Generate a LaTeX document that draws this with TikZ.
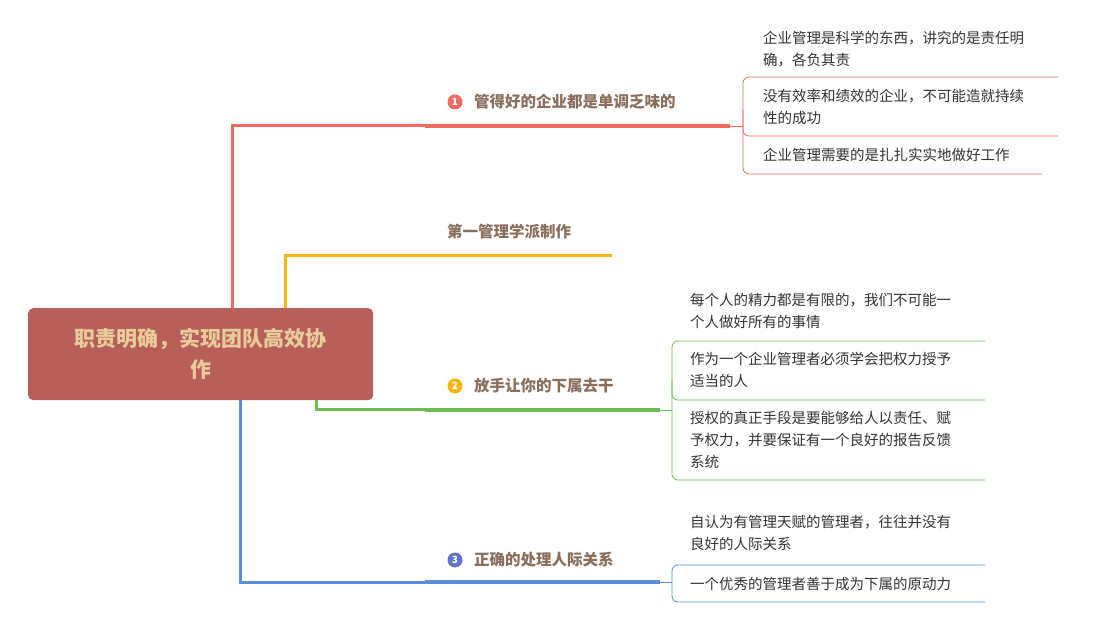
\documentclass[tikz,border=0pt]{standalone}
\usepackage{fontspec}
\setmainfont{Noto Sans CJK SC}
\begin{document}
\begin{tikzpicture}[x=1pt,y=-1pt,
  lbl/.style={anchor=west,font=\fontsize{15.5}{18}\selectfont\bfseries,text=lblc,inner sep=0},
  leaf/.style={anchor=north west,font=\fontsize{14.5}{22}\selectfont,text=leafc,inner sep=0,align=left},
  num/.style={circle,fill=#1,text=white,inner sep=0,minimum size=15pt,font=\fontsize{10}{10}\selectfont\bfseries}]
\definecolor{lblc}{HTML}{8A6E5C}
\definecolor{leafc}{HTML}{333333}
\definecolor{cred}{HTML}{EE6B5D}
\definecolor{cor}{HTML}{F6B511}
\definecolor{cgr}{HTML}{6DBE52}
\definecolor{cbl}{HTML}{5A8EDB}
\definecolor{rootc}{HTML}{B85F5C}
\definecolor{roott}{HTML}{EACB9A}
\useasboundingbox (0,0) rectangle (1096,636);
\fill[white] (0,0) rectangle (1096,636);
% branches
\draw[cred,line width=3pt] (232,310) -- (232,126) -- (425,126);
\draw[cred,line width=4pt] (425,126) -- (730,126);
\draw[cor,line width=3pt] (285,310) -- (285,256) -- (425,256);
\draw[cor,line width=3pt] (425,256) -- (612,256);
\draw[cgr,line width=3pt] (316,398) -- (316,410) -- (425,410);
\draw[cgr,line width=4pt] (425,410) -- (660,410);
\draw[cbl,line width=3pt] (240,398) -- (240,582) -- (425,582);
\draw[cbl,line width=4pt] (425,582) -- (660,582);
\node[fill=rootc,rounded corners=5pt,minimum width=345pt,minimum height=92pt,anchor=north west,inner sep=0] (root) at (28,308) {};
\node[font=\fontsize{21}{31}\selectfont\bfseries,text=roott,align=center] (roottext) at (root.center) {职责明确，实现团队高效协\\作};
% labels
\node[num=cred] (n1) at (455,102) {1};
\node[lbl] (l1) at (474,102) {管得好的企业都是单调乏味的};
\node[lbl] (l0) at (447,232) {第一管理学派制作};
\node[num=cor] (n2) at (455,386) {2};
\node[lbl] (l2) at (474,386) {放手让你的下属去干};
\node[num=cbl!80!violet] (n3) at (455,560) {3};
\node[lbl] (l3) at (474,560) {正确的处理人际关系};
% red children
\draw[cred,line width=0.8pt] (730,126) -- (743,126);
\draw[cred,line width=0.8pt,rounded corners=6pt] (1058,77) -- (743,77) -- (743,174) -- (1042,174);
\draw[cred,line width=0.8pt,rounded corners=6pt] (743,110) -- (743,136) -- (1058,136);
\node[leaf] (a1) at (763,31) {企业管理是科学的东西，讲究的是责任明\\确，各负其责};
\node[leaf] (a2) at (763,89) {没有效率和绩效的企业，不可能造就持续\\性的成功};
\node[leaf] (a3) at (763,148) {企业管理需要的是扎扎实实地做好工作};
% green children
\draw[cgr,line width=0.8pt] (660,410) -- (672,410);
\draw[cgr,line width=0.8pt,rounded corners=6pt] (985,341) -- (672,341) -- (672,480) -- (985,480);
\draw[cgr,line width=0.8pt,rounded corners=6pt] (672,380) -- (672,400) -- (985,400);
\node[leaf] (b1) at (690,293) {每个人的精力都是有限的，我们不可能一\\个人做好所有的事情};
\node[leaf] (b2) at (690,352) {作为一个企业管理者必须学会把权力授予\\适当的人};
\node[leaf] (b3) at (690,411) {授权的真正手段是要能够给人以责任、赋\\予权力，并要保证有一个良好的报告反馈\\系统};
% blue children
\draw[cbl,line width=0.8pt] (660,582) -- (672,582);
\draw[cbl,line width=0.8pt,rounded corners=6pt] (985,565) -- (672,565) -- (672,602) -- (985,602);
\node[leaf] (c1) at (690,515) {自认为有管理天赋的管理者，往往并没有\\良好的人际关系};
\node[leaf] (c2) at (690,577) {一个优秀的管理者善于成为下属的原动力};
\end{tikzpicture}
\end{document}
